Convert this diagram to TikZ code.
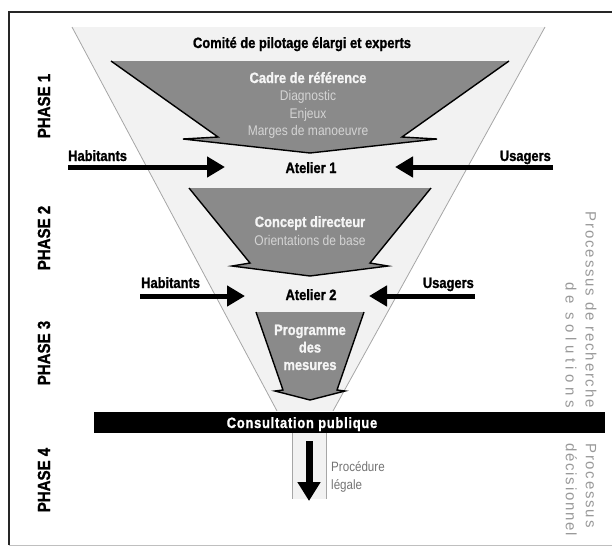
\documentclass[tikz,border=0pt]{standalone}
\usepackage{fontspec}
\setmainfont{Liberation Sans}
\newfontfamily\condfont[FakeStretch=0.86, BoldFeatures={FakeBold=1.2}]{Liberation Sans}
\newfontfamily\barfont[FakeStretch=0.86, LetterSpace=5, BoldFeatures={FakeBold=1.2}]{Liberation Sans}
\newfontfamily\sidefont[LetterSpace=12]{Liberation Sans}
\usetikzlibrary{arrows.meta}

\tikzset{
  funnel/.style={fill=black!5},
  funnelline/.style={draw=black!35, line width=0.8pt},
  block/.style={fill=black!46},
  blockline/.style={draw=black, line width=1.4pt},
  bigarrow/.style={line width=5pt, -{Triangle[length=18pt,width=20pt]}},
  downarrow/.style={line width=7pt, -{Triangle[length=19pt,width=22pt]}},
  title/.style={font=\condfont\bfseries\fontsize{15}{17}\selectfont, inner sep=0pt, anchor=base},
  head/.style={title, text=black!4},
  sub/.style={font=\condfont\fontsize{14}{16}\selectfont, text=black!17, inner sep=0pt, anchor=base},
  phase/.style={font=\condfont\bfseries\fontsize{17.5}{20}\selectfont, rotate=90, inner sep=0pt},
  side/.style={font=\sidefont\fontsize{15}{20}\selectfont, text=black!40, rotate=-90, inner sep=0pt},
}

\begin{document}
\begin{tikzpicture}[x=1pt, y=-1pt]
  \useasboundingbox (0,0) rectangle (612,547);
  \draw[black!85, line width=1.2pt] (9,545) -- (9,12) -- (612,12);
  \draw[black!25] (9,545) -- (612,545);

  \fill[funnel] (72,27) -- (545,27) -- (333,411) -- (277,411) -- cycle;
  \draw[funnelline] (72,27) -- (277,411) (545,27) -- (333,411);
  \fill[funnel] (292,433) rectangle (326,499);
  \draw[funnelline] (292,433) -- (292,499) (326,433) -- (326,499);

  \fill[block] (111,61) -- (218,137) -- (183,139) -- (310,153) -- (437,139) -- (402,137) -- (509,61) -- cycle;
  \draw[blockline] (111,61) -- (218,137) -- (183,139) -- (310,153) -- (437,139) -- (402,137) -- (509,61);
  \fill[block] (189,188) -- (250,263) -- (232,266) -- (310,276) -- (388,266) -- (370,263) -- (431,188) -- cycle;
  \draw[blockline] (189,188) -- (250,263) -- (232,266) -- (310,276) -- (388,266) -- (370,263) -- (431,188);
  \fill[block] (256,312) -- (283,390) -- (275,391) -- (310,400) -- (345,391) -- (337,390) -- (364,312) -- cycle;
  \draw[blockline] (256,312) -- (283,390) -- (275,391) -- (310,400) -- (345,391) -- (337,390) -- (364,312);

  \node[title] (comite) at (302,48) {Comité de pilotage élargi et experts};
  \node[head] (cadre) at (308,83) {Cadre de référence};
  \node[sub] (diag) at (308,100.5) {Diagnostic};
  \node[sub] (enjeux) at (308,118) {Enjeux};
  \node[sub] (marges) at (308,135.5) {Marges de manoeuvre};
  \node[title] (atelier1) at (311,173) {Atelier 1};
  \node[head] (concept) at (310,227) {Concept directeur};
  \node[sub] (orient) at (310,245) {Orientations de base};
  \node[title] (atelier2) at (311,300) {Atelier 2};
  \node[head] (prog) at (310,335) {Programme};
  \node[head] (des) at (310,352.5) {des};
  \node[head] (mesures) at (310,370) {mesures};

  \node[title, anchor=base west] (hab1) at (68,161) {Habitants};
  \node[title, anchor=base east] (usa1) at (551,161) {Usagers};
  \node[title, anchor=base west] (hab2) at (141,288) {Habitants};
  \node[title, anchor=base east] (usa2) at (474,288) {Usagers};
  \coordinate (hab1s) at (68,167);
  \coordinate (hab1e) at (225,167);
  \coordinate (usa1s) at (553,167);
  \coordinate (usa1e) at (395,167);
  \coordinate (hab2s) at (140,296);
  \coordinate (hab2e) at (245,296);
  \coordinate (usa2s) at (475,296);
  \coordinate (usa2e) at (369,296);
  \draw[bigarrow] (hab1s) -- (hab1e);
  \draw[bigarrow] (usa1s) -- (usa1e);
  \draw[bigarrow] (hab2s) -- (hab2e);
  \draw[bigarrow] (usa2s) -- (usa2e);

  \fill (94,412) rectangle (605,433);
  \node[font=\barfont\bfseries\fontsize{15}{17}\selectfont, text=white, inner sep=0pt, anchor=base] (consult) at (302,428) {Consultation publique};

  \coordinate (procs) at (309,441);
  \coordinate (proce) at (309,501);
  \draw[downarrow] (procs) -- (proce);
  \node[sub, text=black!55, anchor=base west, font=\condfont\fontsize{13.5}{16}\selectfont] (proc) at (331,471) {Procédure};
  \node[sub, text=black!55, anchor=base west, font=\condfont\fontsize{13.5}{16}\selectfont] (legale) at (331,489) {légale};

  \node[phase] (ph1) at (44,106) {PHASE 1};
  \node[phase] (ph2) at (44,238) {PHASE 2};
  \node[phase] (ph3) at (44,353) {PHASE 3};
  \node[phase] (ph4) at (44,480) {PHASE 4};

  \node[side, anchor=east, align=right] (recherche) at (581,408) {Processus de recherche\\{\addfontfeature{LetterSpace=30}de solutions}};
  \node[side, anchor=west, align=left] (decision) at (581,443) {Processus\\décisionnel};
\end{tikzpicture}
\end{document}
